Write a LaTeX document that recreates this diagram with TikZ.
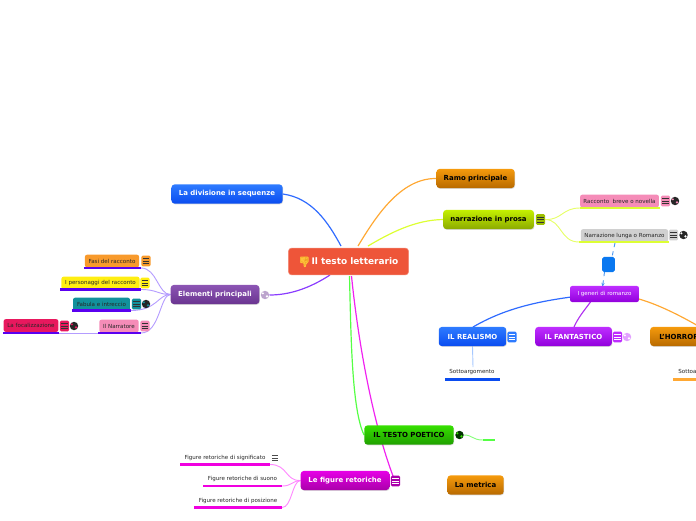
\documentclass[tikz,border=0pt]{standalone}
\usepackage{fontspec}
\setmainfont{DejaVu Sans}
\newfontfamily\emojifont{Noto Emoji}
\usepackage{xcolor}
\usetikzlibrary{positioning,arrows.meta,shadows,backgrounds}
\definecolor{centrefill}{HTML}{EE5539}
\definecolor{thumbfill}{HTML}{FFC23A}
\definecolor{thumbline}{HTML}{E89A20}
\definecolor{bluetop}{HTML}{2E7BFF}
\definecolor{bluebot}{HTML}{0A4CF0}
\definecolor{orangetop}{HTML}{F59A0C}
\definecolor{orangebot}{HTML}{B86A00}
\definecolor{limetop}{HTML}{C4F000}
\definecolor{limebot}{HTML}{8CAA00}
\definecolor{violettop}{HTML}{8C55B4}
\definecolor{violetbot}{HTML}{6A3590}
\definecolor{purpletop}{HTML}{BE2EFF}
\definecolor{purplebot}{HTML}{9200DC}
\definecolor{greentop}{HTML}{36E000}
\definecolor{greenbot}{HTML}{20A000}
\definecolor{magentatop}{HTML}{E600E6}
\definecolor{magentabot}{HTML}{AA00AA}
\definecolor{linkblue}{HTML}{2F6BFF}
\definecolor{linkorange}{HTML}{FFA833}
\definecolor{linklime}{HTML}{DDFF33}
\definecolor{linkviolet}{HTML}{8A3CFF}
\definecolor{linkpurple}{HTML}{B030F0}
\definecolor{linkgreen}{HTML}{55FF44}
\definecolor{linkmagenta}{HTML}{F022F0}
\definecolor{softviolet}{HTML}{B49CFF}
\definecolor{softmagenta}{HTML}{FF88FF}
\definecolor{softlime}{HTML}{E6FF66}
\definecolor{softblue}{HTML}{A6C8FF}
\definecolor{softdash}{HTML}{4A96F0}
\definecolor{underviolet}{HTML}{5A00F0}
\definecolor{fasifill}{HTML}{F89A2C}
\definecolor{persfill}{HTML}{FFEE11}
\definecolor{fabfill}{HTML}{12919C}
\definecolor{narrfill}{HTML}{F58CB8}
\definecolor{focfill}{HTML}{E8185E}
\definecolor{lungfill}{HTML}{D0D0D0}
\definecolor{voidfill}{HTML}{0A78F0}
\definecolor{barmagenta}{HTML}{F000E0}
\tikzset{
  topic/.style={rounded corners=2.2pt,minimum height=13.6pt,inner sep=0pt,font=\fontsize{4.95pt}{6pt}\selectfont\bfseries,
    drop shadow={shadow xshift=0.4pt,shadow yshift=-0.5pt,opacity=0.3}},
  subtopic/.style={rounded corners=1.5pt,minimum height=9pt,inner sep=0pt,font=\fontsize{3.95pt}{4pt}\selectfont,text=black!85},
  plain/.style={inner sep=0pt,font=\fontsize{3.95pt}{4pt}\selectfont,text=black!85},
  notebox/.style={rounded corners=1pt,minimum width=6.6pt,minimum height=7.6pt,inner sep=0pt},
  ball/.style={circle,minimum size=6pt,inner sep=0pt},
  link/.style={line width=0.85pt},
  twig/.style={line width=0.65pt},
  bar/.style={line width=1.7pt}
}
\newcommand{\notemark}[4]{% name, position, fill, line colour
  \node[notebox,fill=#3] (#1) at (#2) {};
  \foreach \dy in {-1.7,0,1.7}
    \draw[line width=0.45pt,#4] ([shift={(-2.2pt,\dy pt)}]#1.center) -- ([shift={(2.2pt,\dy pt)}]#1.center);
}
\newcommand{\globemark}[4]{% name, position, fill, land colour
  \node[ball,fill=#3] (#1) at (#2) {};
  \fill[#4] ([shift={(-1.5pt,1.2pt)}]#1.center) circle (0.8pt);
  \fill[#4] ([shift={(1.4pt,-1pt)}]#1.center) circle (0.9pt);
}
\begin{document}
\begin{tikzpicture}[x=0.025cm,y=-0.025cm]
\useasboundingbox (0,0) rectangle (696,520);
\clip (0,0) rectangle (696,520);
% main branches
\node[topic,top color=bluetop,bottom color=bluebot,text=white,minimum width=79pt] (sequenze) at (227,194) {La divisione in sequenze};
\node[topic,top color=orangetop,bottom color=orangebot,minimum width=55.5pt] (ramo) at (475.5,178.5) {Ramo principale};
\node[topic,top color=limetop,bottom color=limebot,minimum width=64.5pt] (prosa) at (488.5,219.5) {narrazione in prosa};
\node[topic,top color=violettop,bottom color=violetbot,text=white,minimum width=63pt] (elementi) at (215,294.5) {Elementi principali};
\node[topic,top color=greentop,bottom color=greenbot,minimum width=63.5pt] (poetico) at (409,435) {IL TESTO POETICO};
\node[topic,top color=magentatop,bottom color=magentabot,text=white,minimum width=63pt] (figure) at (345,480.5) {Le figure retoriche};
\node[topic,top color=orangetop,bottom color=orangebot,minimum width=40pt] (metrica) at (475.5,485) {La metrica};
\node[topic,top color=bluetop,bottom color=bluebot,text=white,minimum width=48pt] (realismo) at (472.5,336.5) {IL REALISMO};
\node[topic,top color=purpletop,bottom color=purplebot,text=white,minimum width=54.5pt] (fantastico) at (573.5,336.5) {IL FANTASTICO};
\node[topic,top color=orangetop,bottom color=orangebot,minimum width=41pt] (horror) at (679,336.5) {L'HORROR};
\node[rounded corners=2.2pt,fill=centrefill,draw=centrefill!70!white,line width=0.4pt,minimum height=19pt,inner sep=0pt,
  text width=71pt,align=right,inner xsep=7.2pt,text=white,font=\fontsize{6.4pt}{7pt}\selectfont\bfseries] (centre) at (348.5,261.5) {Il testo letterario};
\fill[thumbfill,rounded corners=0.6pt] (300,256.5) -- (308.5,256.5) -- (308.5,262.5) -- (306.5,263.5) -- (305.5,267.5) -- (303.5,266.5) -- (303.5,263) -- (300,263) -- cycle;
\node[inner sep=0pt,text=thumbline,font=\emojifont\fontsize{6.2pt}{7pt}\selectfont] (thumb) at (304.2,261.5) {👎};
% small boxes
\node[subtopic,fill=fasifill,minimum width=38.5pt] (fasi) at (112,261) {Fasi del racconto};
\node[subtopic,fill=persfill,minimum width=55.5pt] (personaggi) at (100.5,283) {I personaggi del racconto};
\node[subtopic,fill=fabfill,minimum width=40.5pt] (fabula) at (101.5,304) {Fabula e intreccio};
\node[subtopic,fill=narrfill,minimum width=28pt] (narratore) at (119,326) {Il Narratore};
\node[subtopic,fill=focfill,minimum width=39pt] (focal) at (31,325.5) {La focalizzazione};
\node[subtopic,fill=narrfill,minimum width=56pt] (racconto) at (619.5,201) {Racconto\ \ breve o novella};
\node[subtopic,fill=lungfill,minimum width=62pt] (lunga) at (624.5,235.5) {Narrazione lunga o Romanzo};
\node[subtopic,minimum height=11.4pt,top color=purpletop,bottom color=purplebot,text=white,minimum width=49pt] (generi) at (604.5,294) {I generi di romanzo};
\node[rounded corners=1.2pt,fill=voidfill,minimum width=9pt,minimum height=10.8pt,inner sep=0pt] (vuoto) at (608.5,264.5) {};
% text only
\node[plain] (sotto) at (472,372) {Sottoargomento};
\node[plain] (sottob) at (701,372) {Sottoargomento};
\node[plain] (signif) at (225,458) {Figure retoriche di significato};
\node[plain] (suono) at (242.5,479) {Figure retoriche di suono};
\node[plain] (posiz) at (238,501) {Figure retoriche di posizione};
% free ends of the lines
\foreach \n/\x/\y in {fasiL/84/268,fasiR/141/268,persL/60/289.5,persR/141/289.5,fabL/72/310.5,fabR/131/310.5,
    narrL/98/333,narrR/141/333,focL/3/333,focR/59/333,racL/580/208,racR/660/208,lunL/579/242,lunR/669/242,
    sotL/445/379.5,sotR/500/379.5,sobL/673/379.5,sobR/696/379.5,sigL/180/464.5,sigR/270/464.5,
    suoL/203/486,suoR/282/486,posL/194/507.5,posR/282/507.5,endL/483/440,endR/495/440,
    topA/341/246,topB/358/246,topC/368/246,botA/330/275,botB/349.5/276,botC/351.5/276,figIn/393/476,
    lunOut/615/243,vuoIn/612/257,vuoOut/604.5/272,genIn/602.5/287,genW/571/297,genE/639/299,horIn/705/330,
    genA/590.5/302,reaIn/473/327,fanIn/574/327,sotIn/473/367}
  \coordinate (\n) at (\x,\y);
% underlines
\draw[bar,underviolet] (fasiL) -- (fasiR);
\draw[bar,underviolet] (persL) -- (persR);
\draw[bar,underviolet] (fabL) -- (fabR);
\draw[bar,underviolet] (narrL) -- (narrR);
\draw[bar,underviolet] (focL) -- (focR);
\draw[bar,linklime] (racL) -- (racR);
\draw[bar,linklime] (lunL) -- (lunR);
\draw[bar,bluebot] (sotL) -- (sotR);
\draw[bar,linkorange] (sobL) -- (sobR);
\draw[bar,barmagenta] (sigL) -- (sigR);
\draw[bar,barmagenta] (suoL) -- (suoR);
\draw[bar,barmagenta] (posL) -- (posR);
\draw[bar,linkgreen] (endL) -- (endR);
% icons
\notemark{notafasi}{146,261}{fasifill}{black!80}
\notemark{notapers}{145,283}{persfill}{black!80}
\notemark{notafab}{136.5,304}{fabfill}{black!80}
\globemark{globofab}{146,304}{black!85}{fabfill}
\notemark{notanarr}{145,326}{narrfill}{black!80}
\notemark{notafoc}{64.5,326}{focfill}{black!80}
\globemark{globofoc}{74,326}{black!85}{focfill}
\notemark{notarac}{665.5,201}{narrfill}{black!80}
\globemark{globorac}{675,201}{black!85}{narrfill}
\notemark{notalun}{673.5,235}{lungfill}{black!80}
\globemark{globolun}{683.5,235}{black!85}{white}
\notemark{notapro}{540.5,219.5}{limebot!70!limetop}{black!80}
\notemark{notarea}{512,337}{bluetop}{white}
\notemark{notafan}{617.5,337}{purpletop}{white}
\globemark{globofan}{627,337}{purpletop!45!white}{white}
\globemark{globoele}{265,295}{violetbot!45!white}{white}
\globemark{globopoe}{459.5,435}{black!80!green}{greentop}
\notemark{notafig}{395.5,481}{magentabot}{white}
\notemark{notasig}{275,458}{white}{black!70}
% connectors
\begin{pgfonlayer}{background}
\draw[link,linkblue] (sequenze.east) .. controls (312,198) and (328,222) .. (topA);
\draw[link,linkorange] (ramo.west) .. controls (400,178) and (375,218) .. (topB);
\draw[link,linklime] (prosa.west) .. controls (415,220) and (390,233) .. (topC);
\draw[link,linkviolet] (globoele.east) .. controls (290,295) and (310,288) .. (botA);
\draw[link,linkgreen] (botB) .. controls (351,340) and (352,410) .. (poetico.west);
\draw[link,linkmagenta] (botC) .. controls (358,340) and (372,420) .. (figIn);
\draw[twig,softviolet] (elementi.west) .. controls (158,294.5) and (157,268) .. (fasiR);
\draw[twig,softviolet] (elementi.west) .. controls (158,294.5) and (157,289.5) .. (persR);
\draw[twig,softviolet] (elementi.west) .. controls (158,294.5) and (157,310.5) .. (fabR);
\draw[twig,softviolet] (elementi.west) .. controls (160,294.5) and (160,333) .. (narrR);
\draw[twig,softviolet] (narrL) -- (focR);
\draw[twig,softlime] (notapro.east) .. controls (562,220) and (562,208) .. (racL);
\draw[twig,softlime] (notapro.east) .. controls (562,220) and (560,242) .. (lunL);
\draw[twig,softdash,dashed] (lunOut) -- (vuoIn);
\draw[twig,softdash,dashed,-{Stealth[length=3pt]}] (vuoOut) -- (genIn);
\draw[link,linkblue] (genW) .. controls (535,302) and (504,309) .. (reaIn);
\draw[twig,linkpurple,line width=0.8pt] (genA) .. controls (583,312) and (578,318) .. (fanIn);
\draw[link,linkorange] (genE) .. controls (660,305) and (685,318) .. (horIn);
\draw[twig,softblue] (realismo.south) -- (sotIn);
\draw[twig,softmagenta] (figure.west) .. controls (285,481) and (288,464.5) .. (sigR);
\draw[twig,softmagenta] (figure.west) .. controls (292,481) and (292,486) .. (suoR);
\draw[twig,softmagenta] (figure.west) .. controls (292,481) and (292,507.5) .. (posR);
\draw[twig,linkgreen!70!white] (globopoe.east) .. controls (473,435) and (472,440) .. (endL);
\end{pgfonlayer}
\end{tikzpicture}
\end{document}
